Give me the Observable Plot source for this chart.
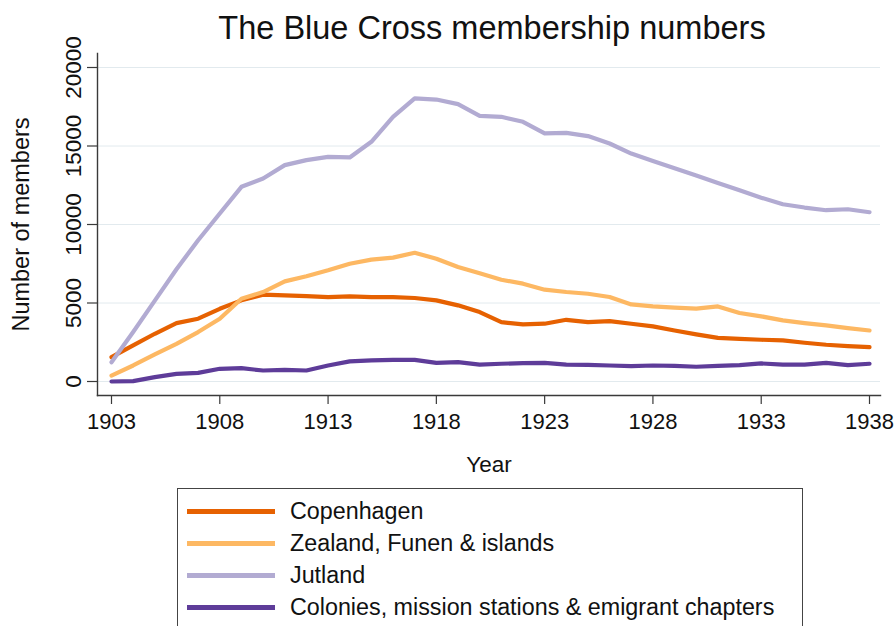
<!DOCTYPE html>
<html>
<head>
<meta charset="utf-8">
<script src="https://cdn.jsdelivr.net/npm/d3@7"></script>
<script src="https://cdn.jsdelivr.net/npm/@observablehq/plot@0.6"></script>
<style>
  html, body { margin: 0; padding: 0; background: #fff; }
  body { font-family: "Liberation Sans", Arial, Helvetica, sans-serif; color: #111; }
  #wrap { position: relative; width: 896px; height: 626px; overflow: hidden; }
  #title { position: absolute; left: 0; top: 12px; width: 896px; text-align: center;
           font-size: 32.5px; line-height: 32.5px; padding-left: 88px; box-sizing: border-box; white-space: nowrap; }
  #legend { position: absolute; left: 177px; top: 488px; width: 626px; height: 160px;
            border: 1.5px solid #444; box-sizing: border-box; background: #fff; padding-top: 6px; }
  .row { display: flex; align-items: center; height: 32px; }
  .sw { width: 88px; height: 5px; margin-left: 9px; margin-right: 15px; }
  .lbl { font-size: 23.3px; line-height: 32px; white-space: nowrap; }
</style>
</head>
<body>
<div id="wrap">
  <div id="chart"></div>
  <div id="title">The Blue Cross membership numbers</div>
  <div id="legend"></div>
</div>
<script>
const years = [1903, 1904, 1905, 1906, 1907, 1908, 1909, 1910, 1911, 1912, 1913, 1914,
               1915, 1916, 1917, 1918, 1919, 1920, 1921, 1922, 1923, 1924, 1925, 1926,
               1927, 1928, 1929, 1930, 1931, 1932, 1933, 1934, 1935, 1936, 1937, 1938];

const copenhagen = [1550, 2300, 3040, 3720, 4000, 4630, 5170, 5530, 5490, 5440, 5380, 5420,
                    5380, 5380, 5320, 5170, 4850, 4420, 3780, 3640, 3680, 3930, 3780, 3850,
                    3680, 3510, 3250, 3000, 2780, 2720, 2660, 2620, 2470, 2340, 2250, 2190];

const zealand = [380, 1020, 1720, 2400, 3150, 4000, 5270, 5700, 6380, 6700, 7080, 7500,
                 7760, 7890, 8200, 7820, 7290, 6900, 6480, 6230, 5850, 5700, 5590, 5380,
                 4910, 4780, 4700, 4640, 4780, 4360, 4150, 3890, 3720, 3570, 3400, 3250];

const jutland = [1230, 3150, 5150, 7150, 9000, 10700, 12400, 12930, 13780, 14100, 14310, 14270,
                 15270, 16860, 18030, 17960, 17670, 16920, 16860, 16540, 15800, 15840, 15630, 15160,
                 14520, 14050, 13590, 13120, 12650, 12180, 11710, 11290, 11080, 10910, 10970, 10780];

const colonies = [0, 20, 280, 490, 550, 810, 850, 700, 740, 700, 1020, 1280,
                  1340, 1380, 1380, 1190, 1230, 1080, 1130, 1170, 1190, 1080, 1060, 1020,
                  980, 1020, 1000, 940, 1000, 1040, 1150, 1080, 1080, 1190, 1040, 1130];

const seriesNames = ["Copenhagen", "Zealand, Funen & islands", "Jutland",
                     "Colonies, mission stations & emigrant chapters"];
const seriesColors = ["#e66101", "#fdb863", "#b2abd2", "#5e3c99"];
const xTicks = [1903, 1908, 1913, 1918, 1923, 1928, 1933, 1938];
const yTicks = [0, 5000, 10000, 15000, 20000];

const seriesValues = [copenhagen, zealand, jutland, colonies];
const rows = [];
seriesNames.forEach((name, i) => {
  years.forEach((yr, j) => rows.push({year: yr, value: seriesValues[i][j], series: name}));
});

const font = '"Liberation Sans", Arial, Helvetica, sans-serif';
const axisColor = "#3a3a3a";

const chart = Plot.plot({
  width: 896,
  height: 480,
  marginLeft: 97,
  marginRight: 16,
  marginTop: 53,
  marginBottom: 85,
  style: { fontFamily: font, color: "#111", background: "transparent", overflow: "visible" },
  x: { domain: [1903, 1938], insetLeft: 14, insetRight: 11 },
  y: { domain: [0, 20000], insetTop: 14, insetBottom: 14 },
  color: { domain: seriesNames, range: seriesColors },
  marks: [
    Plot.gridY(yTicks, { stroke: "#e2eaee", strokeOpacity: 1, strokeWidth: 1 }),
    Plot.frame({ anchor: "left", stroke: axisColor, strokeWidth: 1.4 }),
    Plot.frame({ anchor: "bottom", stroke: axisColor, strokeWidth: 1.4 }),
    Plot.axisX({ ticks: xTicks, tickSize: 9, tickPadding: 9, fontSize: 22,
                 tickFormat: d => String(d), label: null, stroke: axisColor, strokeWidth: 1.2 }),
    Plot.axisY({ ticks: yTicks, tickSize: 10, tickPadding: 7, tickRotate: -90, fontSize: 22.5,
                 tickFormat: d => String(d), label: null, stroke: axisColor, strokeWidth: 1.2 }),
    Plot.line(rows, { x: "year", y: "value", z: "series", stroke: "series",
                      strokeWidth: 4.2, strokeLinejoin: "round", strokeLinecap: "round" }),
    Plot.text(["Number of members"], { frameAnchor: "left", dx: -69, rotate: -90,
                                       textAnchor: "middle", lineAnchor: "bottom", fontSize: 23.5 }),
    Plot.text(["Year"], { frameAnchor: "bottom", dy: 76, lineAnchor: "bottom", fontSize: 22.5 })
  ]
});
document.getElementById("chart").appendChild(chart);

const legend = document.getElementById("legend");
seriesNames.forEach((name, i) => {
  const row = document.createElement("div");
  row.className = "row";
  const sw = document.createElement("div");
  sw.className = "sw";
  sw.style.background = seriesColors[i];
  const lbl = document.createElement("div");
  lbl.className = "lbl";
  lbl.textContent = name;
  row.appendChild(sw);
  row.appendChild(lbl);
  legend.appendChild(row);
});
</script>
</body>
</html>
